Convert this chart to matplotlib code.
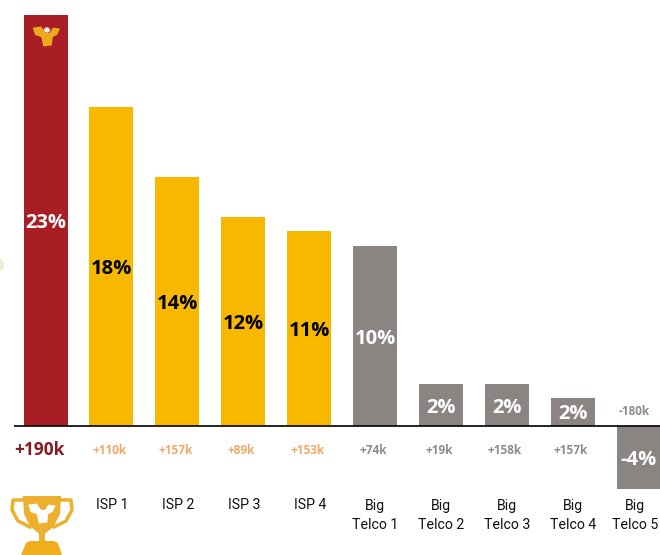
import matplotlib
matplotlib.use("Agg")
import matplotlib.pyplot as plt
from matplotlib.patches import Polygon, Ellipse, Rectangle
from matplotlib import font_manager as fm

categories = ["ISP 1", "ISP 2", "ISP 3", "ISP 4", "Big\nTelco 1", "Big\nTelco 2",
              "Big\nTelco 3", "Big\nTelco 4", "Big\nTelco 5"]
share_values = [23.1, 17.9, 14.0, 11.75, 10.95, 10.1, 2.35, 2.35, 1.6, -3.55]
share_labels = ["23%", "18%", "14%", "12%", "11%", "10%", "2%", "2%", "2%", "-4%"]
net_adds = ["+190k", "+110k", "+157k", "+89k", "+153k", "+74k", "+19k", "+158k", "+157k", "-180k"]
groups = ["leader", "isp", "isp", "isp", "isp", "telco", "telco", "telco", "telco", "telco"]

RED, YELLOW, GREY = "#A81E24", "#F8B800", "#8A8483"
bar_colors = {"leader": RED, "isp": YELLOW, "telco": GREY}
label_colors = {"leader": "white", "isp": "black", "telco": "white"}
adds_colors = {"leader": "#8A1A20", "isp": "#F2A868", "telco": "#8F8B8A"}

W, H = 660, 555
fig = plt.figure(figsize=(W / 100, H / 100), dpi=100, facecolor="white")
ax = fig.add_axes([0, 0, 1, 1])
x0, dx, y0, dy = 45.5, 65.9, 426, 17.8
ax.set_xlim(-x0 / dx, (W - x0) / dx)
ax.set_ylim(-(H - y0) / dy, y0 / dy)
ax.axis("off")

x = list(range(len(share_values)))
ax.bar(x, share_values, width=44 / dx, color=[bar_colors[g] for g in groups], zorder=2)
ax.plot([-0.48, 9.6], [0, 0], color="black", lw=1.2, zorder=3, solid_capstyle="butt")

pct_font = ["Open Sans", "DejaVu Sans"]
names = {f.name for f in fm.fontManager.ttflist}
narrow = ["Liberation Sans Narrow"] if "Liberation Sans Narrow" in names else ["Roboto", "DejaVu Sans"]
cat_size = 12 if "Liberation Sans Narrow" in names else 10.2

for i, (v, lab, add, g) in enumerate(zip(share_values, share_labels, net_adds, groups)):
    ax.text(i, v / 2 - 0.15, lab, ha="center", va="center", fontsize=14.5, fontweight="bold",
            color=label_colors[g], family=pct_font, zorder=4)
    if g == "leader":
        ax.text(i - 0.09, -1.35, add, ha="center", va="center", fontsize=12.5, fontweight="bold",
                color=adds_colors[g], family=pct_font)
    elif v < 0:
        ax.text(i - 0.06, 0.8, add, ha="center", va="center", fontsize=8.5, fontweight="bold",
                color=adds_colors[g], family=pct_font)
    else:
        ax.text(i - 0.03, -1.35, add, ha="center", va="center", fontsize=8.5, fontweight="bold",
                color=adds_colors[g], family=pct_font)

for i, c in enumerate(categories, start=1):
    if "\n" in c:
        top, bottom = c.split("\n")
        shift = -0.05 if i == len(categories) else 0
        ax.text(i + shift, -4.5, top, ha="center", va="center", fontsize=cat_size, color="#111111", family=narrow)
        ax.text(i + shift, -5.58, bottom, ha="center", va="center", fontsize=cat_size, color="#111111", family=narrow)
    else:
        ax.text(i + 0.01, -4.42, c, ha="center", va="center", fontsize=cat_size, color="#111111", family=narrow)

# pixel-space overlay for the decorative logo and trophy
ov = fig.add_axes([0, 0, 1, 1], facecolor="none")
ov.set_xlim(0, W)
ov.set_ylim(H, 0)
ov.axis("off")

def logo(cx, cy, s, col, zorder=6):
    pts = [(-13, -8), (-5, -9), (-1, -3), (3, -3), (6, -8), (13, -7), (10, -1), (6, 1),
           (5, 9), (-3, 10), (-5, 1), (-11, -1)]
    ov.add_patch(Polygon([(cx + a * s, cy + b * s) for a, b in pts], closed=True,
                         fc=col, ec="none", zorder=zorder))

logo(46.5, 36, 1.05, "#EDA91C")
ov.add_patch(Ellipse((47, 30), 6, 5.5, fc="#F3E6E0", ec="none", zorder=7))

G = "#EDB02E"
# trophy handles
ov.plot([24, 13, 12, 18, 30], [500, 500, 510, 521, 527], color=G, lw=2.5, zorder=5)
ov.plot([60, 71, 72, 66, 54], [500, 500, 510, 521, 527], color=G, lw=2.5, zorder=5)
# cup
ov.add_patch(Polygon([(23, 496), (61, 496), (60, 514), (54, 526), (46, 533), (38, 533),
                      (30, 526), (24, 514)], closed=True, fc=G, ec="none", zorder=6))
ov.add_patch(Rectangle((39, 532), 6, 10, fc=G, ec="none", zorder=6))
ov.add_patch(Polygon([(26, 543), (30, 541), (54, 541), (58, 543), (62, 555), (21, 555)],
                     closed=True, fc="#EFAE1A", ec="none", zorder=6))
logo(42, 513, 1.05, "white", zorder=7)

# faint speck at the left edge of the reference
ov.add_patch(Ellipse((0, 265), 8, 12, fc="#EFE9D8", ec="none", zorder=1))

fig.savefig("out.png", dpi=100, facecolor="white")
